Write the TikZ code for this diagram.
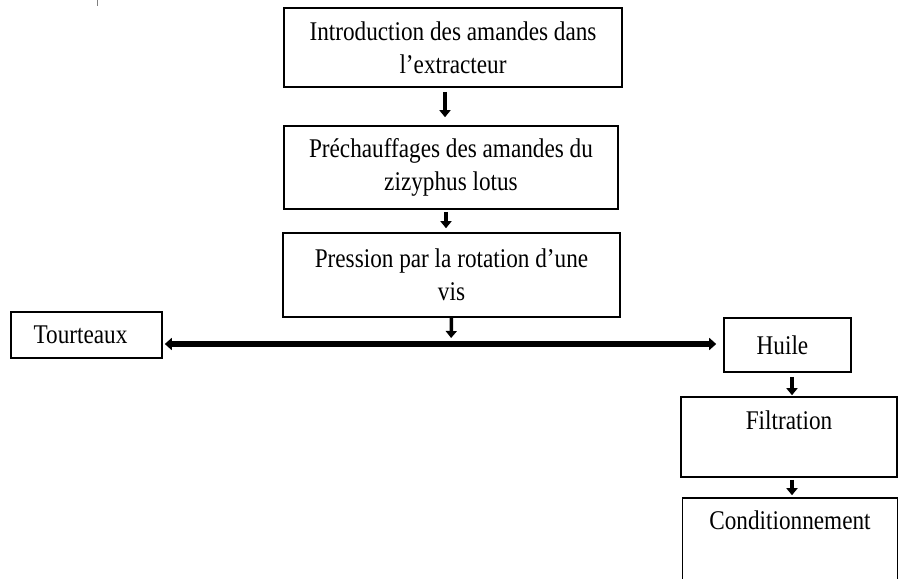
\documentclass[tikz,border=0pt]{standalone}
\usepackage{fontspec}
\setmainfont{Liberation Serif}[FakeStretch=0.86]
\usetikzlibrary{positioning}
\usetikzlibrary{arrows.meta}
\tikzset{
stage/.style={draw,black,line width=1.6pt,align=center,inner sep=0cm,anchor=center,font=\fontsize{27}{33}\selectfont},
flow/.style={black,line width=3.5pt,-{Triangle[width=11pt,length=7pt]}},
split/.style={black,line width=6pt,{Triangle[width=12pt,length=7pt]}-{Triangle[width=12pt,length=7pt]}}
}
\begin{document}
\begin{tikzpicture}[x=1pt,y=-1pt]
    \useasboundingbox (0,0) rectangle (898,579);
    \clip (0,0) rectangle (898,579);
    {
      \node[stage, minimum width=338pt, minimum height=79pt](intro) at (453,47.5) {Introduction des amandes dans\\l'extracteur};
      \node[stage, minimum width=334pt, minimum height=83pt](preheat) at (451,167.5) {Préchauffages des amandes du\\zizyphus lotus};
      \node[stage, minimum width=337pt, minimum height=84pt](press) at (451.5,275) {Pression par la rotation d'une\\vis};
      \node[stage, minimum width=151pt, minimum height=46pt](cake) at (86.5,335) {Tourteaux\hspace{12pt}};
      \node[stage, minimum width=127pt, minimum height=54pt](oil) at (787.5,345) {Huile\hspace{10pt}};
      \node[stage, minimum width=216pt, minimum height=80pt](filter) at (789,437) {Filtration\\\mbox{}};
      \node[stage, minimum width=215pt, minimum height=92pt](pack) at (790,544) {Conditionnement\\[14pt]\mbox{}};
      \coordinate (split-c) at (451,344);
      %
      \draw[flow, shorten <=4pt, shorten >=8pt] ([xshift=-8pt]intro.south) -- ([xshift=-6pt]preheat.north);
      \draw[flow, shorten <=2pt, shorten >=4pt] ([xshift=-5pt]preheat.south) -- ([xshift=-5.5pt]press.north);
      \draw[flow, shorten >=6pt] (press.south) -- (split-c);
      \draw[split, shorten <=2pt, shorten >=7pt] (cake.east |- split-c) -- (oil.west |- split-c);
      \draw[flow, shorten <=4pt, shorten >=1pt] ([xshift=4.5pt]oil.south) -- ([xshift=3pt]filter.north);
      \draw[flow, shorten <=2pt, shorten >=2pt] ([xshift=3pt]filter.south) -- ([xshift=2pt]pack.north);
      %
      \draw[gray, line width=0.6pt] (97,0) -- (97,6);
    }
\end{tikzpicture}
\end{document}
